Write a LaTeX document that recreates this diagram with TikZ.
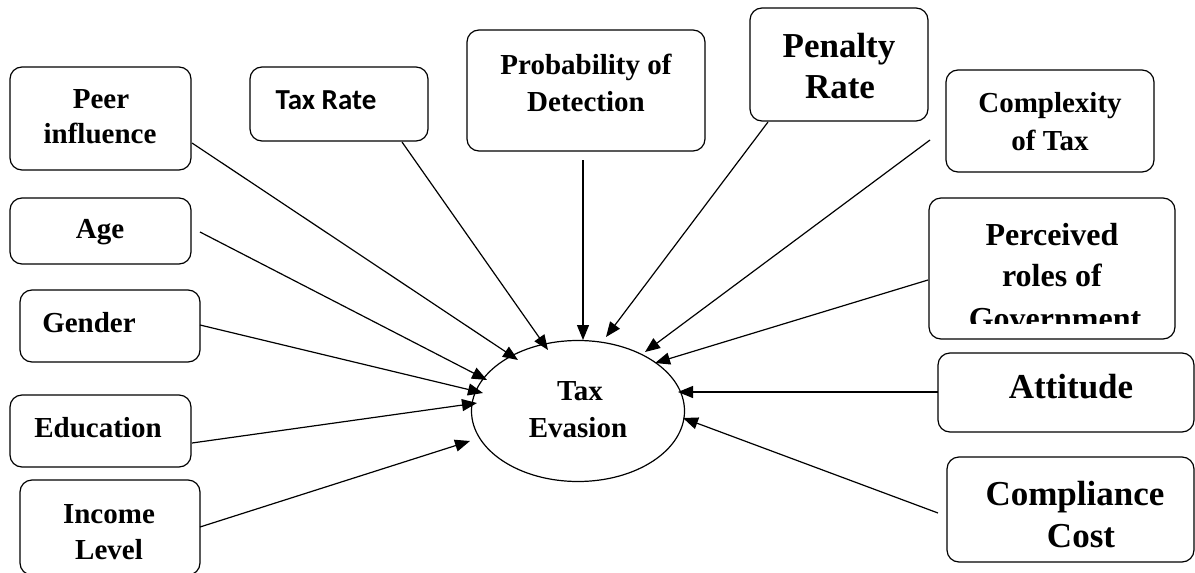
\documentclass[tikz,border=0pt]{standalone}
\usepackage{fontspec}
\setmainfont{Liberation Serif}
\newfontfamily\calibrifont{Carlito}
\usetikzlibrary{arrows.meta,shapes.geometric}
\tikzset{
  box/.style={draw, line width=1.2pt, rounded corners=12pt, inner sep=0pt},
  txt/.style={anchor=base, inner sep=0pt, font=\fontsize{29}{35}\selectfont\bfseries},
  bigtxt/.style={anchor=base, inner sep=0pt, font=\fontsize{35}{42}\selectfont\bfseries},
  midtxt/.style={anchor=base, inner sep=0pt, font=\fontsize{32}{39}\selectfont\bfseries},
  sanstxt/.style={anchor=base, inner sep=0pt, font=\fontsize{29}{35}\selectfont\calibrifont\bfseries},
  arr/.style={line width=1.2pt, -{Triangle[length=15pt,width=12pt]}}
}
\begin{document}
\begin{tikzpicture}[x=1pt,y=-1pt]
\useasboundingbox (0,0) rectangle (1195,573);
% boxes
\node[box, minimum width=181pt, minimum height=103pt] (peer) at (100.5,118.5) {};
\node[box, minimum width=181pt, minimum height=66pt] (age) at (100.5,231) {};
\node[box, minimum width=178pt, minimum height=74pt] (taxrate) at (339,104) {};
\node[box, minimum width=238pt, minimum height=121pt] (prob) at (586,90.5) {};
\node[box, minimum width=178pt, minimum height=113pt] (pen) at (839,64.5) {};
\node[box, minimum width=208pt, minimum height=102pt] (comp) at (1050,121) {};
\node[box, minimum width=246pt, minimum height=141pt] (perc) at (1052,268.5) {};
\node[box, minimum width=256pt, minimum height=79pt] (att) at (1066,392.5) {};
\node[box, minimum width=247pt, minimum height=105pt] (cc) at (1070.5,509.5) {};
\node[box, minimum width=180pt, minimum height=72pt] (gen) at (110,326) {};
\node[box, minimum width=181pt, minimum height=72pt] (edu) at (100.5,431) {};
\node[box, minimum width=180pt, minimum height=95pt] (inc) at (110,527.5) {};
\node[draw, line width=1.2pt, ellipse, inner sep=0pt, minimum width=213pt, minimum height=141pt] (te) at (578,411) {};
% texts
\node[txt] (peer1) at (101,108) {Peer};
\node[txt] (peer2) at (100,143) {influence};
\node[txt] (age1) at (100,238) {Age};
\node[sanstxt] (tr1) at (326,109) {Tax Rate};
\node[txt] (gen1) at (89,332) {Gender};
\node[txt] (edu1) at (98,437) {Education};
\node[txt] (inc1) at (109,523) {Income};
\node[txt] (inc2) at (109,559) {Level};
\node[txt] (prob1) at (586,74) {Probability of};
\node[txt] (prob2) at (586,111) {Detection};
\node[bigtxt] (pen1) at (839,57) {Penalty};
\node[bigtxt] (pen2) at (840,98) {Rate};
\node[txt] (comp1) at (1050,112) {Complexity};
\node[txt] (comp2) at (1050,150) {of Tax};
\node[midtxt] (perc1) at (1052,245) {Perceived};
\node[midtxt] (perc2) at (1052,286) {roles of};
\begin{scope}
\clip (930,300) rectangle (1174,323);
\node[midtxt] (perc3) at (1055,329) {Government};
\end{scope}
\node[bigtxt] (att1) at (1071,398) {Attitude};
\node[bigtxt] (cc1) at (1075,505) {Compliance};
\node[bigtxt] (cc2) at (1081,547) {Cost};
\node[txt] (te1) at (580,400) {Tax};
\node[txt] (te2) at (578,437) {Evasion};
% connector end points
\coordinate (s1) at (192,143); \coordinate (e1) at (518,360);
\coordinate (s2) at (402,142); \coordinate (e2) at (548,350);
\coordinate (s3) at (583,160); \coordinate (e3) at (583,340);
\coordinate (s4) at (768,122); \coordinate (e4) at (606,337);
\coordinate (s5) at (930,140); \coordinate (e5) at (645,352);
\coordinate (s6) at (928,280); \coordinate (e6) at (655,363);
\coordinate (s7) at (938,392); \coordinate (e7) at (678,392);
\coordinate (s8) at (938,513); \coordinate (e8) at (683,418);
\coordinate (s9) at (200,232); \coordinate (e9) at (487,380);
\coordinate (s10) at (200,325); \coordinate (e10) at (483,393);
\coordinate (s11) at (192,443); \coordinate (e11) at (477,403);
\coordinate (s12) at (200,527); \coordinate (e12) at (470,441);
\foreach \i in {1,...,12} { \draw[arr] (s\i) -- (e\i); }
\end{tikzpicture}
\end{document}
